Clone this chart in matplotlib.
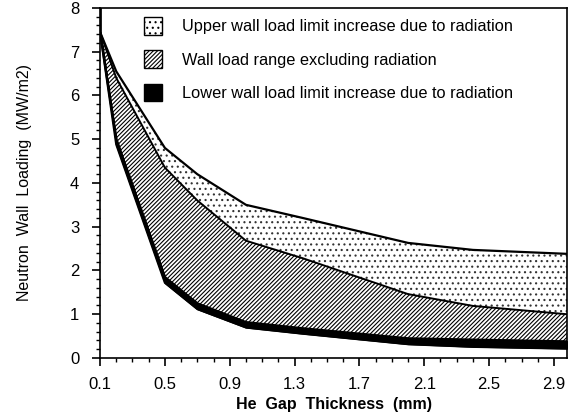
import matplotlib
matplotlib.use("Agg")
import matplotlib.pyplot as plt
from matplotlib.patches import Patch
from matplotlib.ticker import MultipleLocator, FixedLocator

plt.rcParams['font.family'] = ['Liberation Sans', 'DejaVu Sans']
plt.rcParams['hatch.linewidth'] = 0.8

# He gap thickness (mm)
gap = [0.1, 0.1, 0.2, 0.5, 0.7, 1.0, 1.35, 2.0, 2.4, 2.98]
# Upper wall load limit with radiation
upper_rad = [8.0, 7.45, 6.55, 4.8, 4.2, 3.5, 3.2, 2.63, 2.47, 2.38]
# Upper limit of wall load range excluding radiation
upper_norad = [8.0, 7.45, 6.4, 4.35, 3.6, 2.68, 2.28, 1.46, 1.19, 1.0]
# Lower limit of wall load range excluding radiation
lower_norad = [8.0, 7.45, 5.0, 1.85, 1.25, 0.82, 0.68, 0.45, 0.42, 0.38]
# Lower wall load limit with radiation
lower_rad = [8.0, 7.45, 4.88, 1.72, 1.12, 0.7, 0.56, 0.32, 0.26, 0.22]

xticks = [0.1, 0.5, 0.9, 1.3, 1.7, 2.1, 2.5, 2.9]
yticks = [0, 1, 2, 3, 4, 5, 6, 7, 8]
legend_labels = ["Upper wall load limit increase due to radiation",
                 "Wall load range excluding radiation",
                 "Lower wall load limit increase due to radiation"]

fig = plt.figure(figsize=(5.75, 4.17), dpi=100)
ax = fig.add_axes([0.174, 0.1415, 0.812, 0.8395])

ax.fill_between(gap, upper_norad, upper_rad, facecolor='white', edgecolor='#333333',
                hatch='...', linewidth=0)
ax.fill_between(gap, lower_norad, upper_norad, facecolor='white', edgecolor='black',
                hatch='////////', linewidth=0)
ax.fill_between(gap, lower_rad, lower_norad, facecolor='black', edgecolor='black',
                linewidth=1.2)
ax.plot(gap, upper_rad, color='black', lw=1.6)
ax.plot(gap, upper_norad, color='black', lw=1.4)
ax.plot(gap, lower_norad, color='black', lw=1.6)
ax.plot(gap, lower_rad, color='black', lw=1.6)

ax.set_xlim(0.1, 2.98)
ax.set_ylim(0, 8)
ax.xaxis.set_major_locator(FixedLocator(xticks))
ax.xaxis.set_minor_locator(MultipleLocator(0.1))
ax.yaxis.set_major_locator(FixedLocator(yticks))
ax.yaxis.set_minor_locator(MultipleLocator(0.2))
ax.set_xticklabels([f"{t:.1f}" for t in xticks])
ax.set_yticklabels([str(t) for t in yticks])
ax.tick_params(which='major', direction='out', length=6, width=1.2, labelsize=12)
ax.tick_params(axis='y', which='major', pad=9)
ax.tick_params(axis='x', which='major', pad=8)
ax.tick_params(which='minor', direction='out', length=3, width=1.0)
for s in ax.spines.values():
    s.set_linewidth(1.2)

ax.set_xlabel("He  Gap  Thickness  (mm)", fontsize=11.5, fontweight='bold', labelpad=3)
ax.set_ylabel("Neutron  Wall  Loading  (MW/m2)", fontsize=11.5, labelpad=27)

handles = [Patch(facecolor='white', edgecolor='black', hatch='...', lw=1.0),
           Patch(facecolor='white', edgecolor='black', hatch='////////', lw=1.0),
           Patch(facecolor='black', edgecolor='black', lw=1.0)]
ax.legend(handles, legend_labels, loc='upper left', frameon=False, fontsize=11.8,
          handlelength=1.1, handleheight=1.3, handletextpad=1.2, labelspacing=0.95,
          borderaxespad=0.0, borderpad=0.0, bbox_to_anchor=(0.094, 0.975))

fig.savefig("out.png", dpi=100)
